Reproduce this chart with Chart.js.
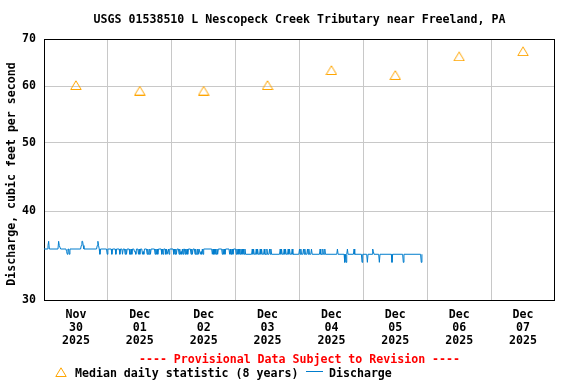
<!DOCTYPE html>
<html><head><meta charset="utf-8">
<script src="https://cdn.jsdelivr.net/npm/chart.js@4"></script>
<style>html,body{margin:0;padding:0;background:#fff;}canvas{display:block;}</style>
</head><body>
<canvas id="c" width="576" height="384"></canvas>
<script>
const titleText = 'USGS 01538510 L Nescopeck Creek Tributary near Freeland, PA';
const yAxisTitle = 'Discharge, cubic feet per second';
const provisionalText = '---- Provisional Data Subject to Revision ----';
const medianLabel = 'Median daily statistic (8 years)';
const dischargeLabel = 'Discharge';

// x axis: hours since Nov 30 2025 00:00
const dayLabels = [
  ['Nov','30','2025'],['Dec','01','2025'],['Dec','02','2025'],['Dec','03','2025'],
  ['Dec','04','2025'],['Dec','05','2025'],['Dec','06','2025'],['Dec','07','2025']
];
const yTickValues = [30, 40, 50, 60, 70];

const medianHours = [12, 36, 60, 84, 108, 132, 156, 180];
const medianValues = [60.3, 59.2, 59.2, 60.3, 63.3, 62.3, 66.2, 67.3];

// discharge readings [hour, cfs]
const discharge = [
 [0,35.4],[1.25,35.4],[1.5,35.8],[1.75,36.3],[2,35.4],
 [5.25,35.4],[5.5,36.3],[5.75,35.8],[6,35.8],[6.25,35.4],
 [8.25,35.4],[8.5,35.1],[8.75,34.8],[9,35.4],[9.25,35.4],[9.5,34.8],[9.75,35.4],
 [13.75,35.4],[14,35.8],[14.25,36.3],[14.5,36.3],[14.75,35.8],[15,35.4],
 [19.75,35.4],[20,35.8],[20.25,36.3],[20.5,35.8],[20.75,35.4],[21,34.8],[21.25,35.4],
 [23.5,35.4],[23.75,34.8],[24,35.4],
 [25.25,35.4],[25.5,34.8],[25.75,35.4],
 [26.75,35.4],[27,34.8],[27.25,35.4],
 [28.25,35.4],[28.5,34.8],[28.75,35.4],
 [29.25,35.4],[29.5,34.8],[29.75,35.4],
 [30.25,35.4],[30.5,34.8],[30.75,35.4],[31,34.8],[31.25,35.4],
 [32,35.4],[32.25,34.8],[32.5,34.8],[32.75,35.4],[33,34.8],[33.25,35.4],
 [33.75,35.4],[34,35.1],[34.25,35.1],[34.5,34.8],[34.75,35.4],
 [35.25,35.4],[35.5,34.8],[35.75,35.4],[36,34.8],[36.25,35.4],
 [36.75,35.4],[37,34.8],[37.25,35.1],[37.5,34.8],[37.75,35.4],
 [38.5,35.4],[38.75,34.8],[39,35.4],[39.25,34.8],[39.5,34.8],[39.75,35.4],[40,34.8],[40.25,35.4],
 [41.5,35.4],[41.75,34.8],[42,35.4],[42.25,34.8],[42.5,35.4],[42.75,34.8],[43,35.4],
 [44,35.4],[44.25,34.8],[44.5,35.4],[44.75,34.8],[45,35.4],
 [45.5,35.4],[45.75,34.8],[46,35.4],[46.25,34.8],[46.5,34.8],[46.75,35.4],[47,34.8],[47.25,35.4],
 [48.5,35.4],[48.75,34.8],[49,35.4],[49.25,34.8],[49.5,35.4],[49.75,34.8],[50,35.4],
 [50.5,35.4],[50.75,34.8],[51,35.4],[51.25,34.8],[51.5,35.1],[51.75,34.8],[52,35.4],[52.25,34.8],[52.5,35.4],
 [52.75,35.4],[53,34.8],[53.25,35.4],[53.5,34.8],[53.75,35.4],[54,34.8],[54.25,35.4],
 [55,35.4],[55.25,34.8],[55.5,35.4],[55.75,34.8],[56,35.4],
 [56.5,35.4],[56.75,34.8],[57,35.4],[57.25,34.8],[57.5,34.8],[57.75,35.4],[58,34.8],[58.25,35.4],
 [58.5,35.4],[58.75,34.8],[59,35.1],[59.25,34.8],[59.5,35.4],[59.75,34.8],[60,35.4],
 [63,35.4],[63.25,34.8],[63.5,35.4],[63.75,34.8],[64,35.4],[64.25,34.8],[64.5,35.4],[64.75,34.8],[65,35.4],[65.25,34.8],[65.5,35.4],
 [66.75,35.4],[67,34.8],[67.25,35.4],[67.5,34.8],[67.75,35.4],[68,34.8],[68.25,35.4],
 [69.5,35.4],[69.75,34.8],[70,35.4],[70.25,34.8],[70.5,34.8],[70.75,35.4],[71,34.8],[71.25,35.4],
 [72,35.4],[72.25,34.8],[72.5,35.4],[72.75,34.8],[73,35.4],[73.25,34.8],[73.5,35.4],
 [73.75,34.8],[74,35.4],[74.25,34.8],[74.5,35.4],[74.75,34.8],[75,35.4],[75.25,34.8],[75.5,35.4],[75.75,34.8],
 [78,34.8],
 [78.25,35.4],[78.5,34.8],[78.75,35.4],[79,34.8],[79.5,34.8],[79.75,35.4],[80,34.8],[80.25,35.4],[80.5,34.8],[81,34.8],[81.25,35.4],[81.5,34.8],[81.75,35.4],[82,34.8],[82.5,34.8],[82.75,35.4],[83,34.8],[83.5,34.8],[83.75,35.4],[84,34.8],[84.5,34.8],[84.75,35.4],[85,34.8],[85.25,35.4],[85.5,34.8],
 [88.5,34.8],
 [88.75,35.4],[89,34.8],[89.25,35.4],[89.5,34.8],[90,34.8],[90.25,35.4],[90.5,34.8],[90.75,35.4],[91,34.8],[91.5,34.8],[91.75,35.4],[92,34.8],[92.25,35.4],[92.5,34.8],[93,34.8],[93.25,35.4],[93.5,34.8],
 [95.75,34.8],
 [96,35.4],[96.25,34.8],[96.5,35.4],[96.75,34.8],[97.25,34.8],[97.5,35.4],[97.75,34.8],[98,35.4],[98.25,34.8],[98.75,34.8],[99,35.4],[99.25,34.8],[99.5,35.4],[99.75,34.8],[100.25,34.8],[100.5,35.4],[100.75,34.8],
 [103.5,34.8],
 [103.75,35.4],[104,34.8],[104.5,34.8],[104.75,35.4],[105,34.8],[105.25,34.8],[105.5,35.4],[105.75,34.8],
 [110,34.8],[110.25,35.4],[110.5,34.8],
 [112.75,34.8],[113,33.9],[113.25,34.8],[113.5,33.9],[113.75,34.8],[114,35.4],[114.25,34.8],
 [116.25,34.8],[116.5,35.4],[116.75,34.8],
 [119.25,34.8],[119.5,33.9],[119.75,34.8],
 [121.25,34.8],[121.5,33.9],[121.75,34.8],
 [123.25,34.8],[123.5,35.4],[123.75,35.1],[124,34.8],
 [125.75,34.8],[126,33.9],[126.25,34.8],
 [130.5,34.8],[130.75,33.9],[131,34.8],
 [134.75,34.8],[135,33.9],[135.25,34.8],
 [141.5,34.8],[141.75,33.9],[142,34.8]
];

const FONT = 'DejaVu Sans Mono';
const FS = 11.6;
const ORANGE = '#ffa500';
const BLUE = 'rgb(0,125,205)';
const GRID = '#c8c8c8';

// triangle marker image
function makeTriangle() {
  const c = document.createElement('canvas');
  c.width = 12; c.height = 10;
  const g = c.getContext('2d');
  g.strokeStyle = ORANGE; g.lineWidth = 1;
  g.beginPath();
  g.moveTo(6, 0.8); g.lineTo(11.2, 9.5); g.lineTo(0.8, 9.5); g.closePath();
  g.stroke();
  return c;
}
const tri = makeTriangle();

const decor = {
  id: 'decor',
  beforeDatasetsDraw(chart) {
    const {ctx, chartArea: a} = chart;
    ctx.save();
    ctx.strokeStyle = '#000'; ctx.lineWidth = 1;
    ctx.strokeRect(Math.round(a.left) + 0.5, Math.round(a.top) + 0.5,
      Math.round(a.right) - Math.round(a.left) - 1, Math.round(a.bottom) - Math.round(a.top));
    ctx.restore();
  },
  afterDraw(chart) {
    const {ctx, chartArea: a} = chart;
    ctx.save();
    ctx.font = 'bold ' + FS + 'px "' + FONT + '"';
    ctx.textBaseline = 'middle';
    ctx.fillStyle = '#000';
    ctx.textAlign = 'center';
    ctx.fillText(titleText, (a.left + a.right) / 2, 19.5);
    ctx.save();
    ctx.translate(12, 174);
    ctx.rotate(-Math.PI / 2);
    ctx.fillText(yAxisTitle, 0, 0);
    ctx.restore();
    ctx.fillStyle = '#ff0000';
    ctx.fillText(provisionalText, (a.left + a.right) / 2, 359.5);
    ctx.textAlign = 'left';
    ctx.fillStyle = '#000';
    ctx.drawImage(tri, 55, 367);
    ctx.fillText(medianLabel, 75, 373.5);
    ctx.strokeStyle = BLUE; ctx.lineWidth = 1;
    ctx.beginPath(); ctx.moveTo(306, 371.5); ctx.lineTo(323, 371.5); ctx.stroke();
    ctx.fillText(dischargeLabel, 329, 373.5);
    ctx.restore();
  }
};

Chart.defaults.font.family = FONT;
Chart.defaults.font.size = FS;
Chart.defaults.font.weight = 'bold';
Chart.defaults.color = '#000';

new Chart(document.getElementById('c'), {
  type: 'line',
  data: {
    datasets: [
      {
        label: dischargeLabel,
        data: discharge.map(p => ({x: p[0], y: p[1]})),
        borderColor: BLUE, borderWidth: 1, borderJoinStyle: 'bevel', pointRadius: 0, tension: 0,
        order: 2
      },
      {
        label: medianLabel,
        data: medianHours.map((h, i) => ({x: h, y: medianValues[i]})),
        showLine: false, pointStyle: tri, pointRadius: 6,
        borderColor: ORANGE, backgroundColor: ORANGE,
        order: 1
      }
    ]
  },
  options: {
    responsive: false,
    animation: false,
    devicePixelRatio: 1,
    layout: { padding: { top: 39, right: 21, left: 0, bottom: 0 } },
    plugins: { legend: { display: false }, title: { display: false }, tooltip: { enabled: false } },
    scales: {
      x: {
        type: 'linear', min: 0, max: 192,
        afterBuildTicks(s) { s.ticks = dayLabels.flatMap((d, i) => [{value: i * 24}, {value: i * 24 + 12}]).concat([{value: 192}]); },
        afterFit(s) { s.height = 84; },
        ticks: {
          autoSkip: false, maxRotation: 0, padding: 8,
          font: { lineHeight: 1.14 },
          callback(v) { return (v % 24 === 12) ? dayLabels[(v - 12) / 24] : ''; }
        },
        grid: {
          drawTicks: false,
          color(ctx) { const v = ctx.tick && ctx.tick.value; return (v % 24 === 0 && v > 0 && v < 192) ? GRID : 'rgba(0,0,0,0)'; }
        },
        border: { display: false }
      },
      y: {
        type: 'logarithmic', min: 30, max: 70,
        afterBuildTicks(s) { s.ticks = yTickValues.map(v => ({value: v})); },
        afterFit(s) { s.width = 44; },
        ticks: { padding: 8, callback(v) { return String(v); } },
        grid: {
          drawTicks: false,
          color(ctx) { const v = ctx.tick && ctx.tick.value; return (v > 30 && v < 70) ? GRID : 'rgba(0,0,0,0)'; }
        },
        border: { display: false }
      }
    }
  },
  plugins: [decor]
});
</script>
</body></html>
